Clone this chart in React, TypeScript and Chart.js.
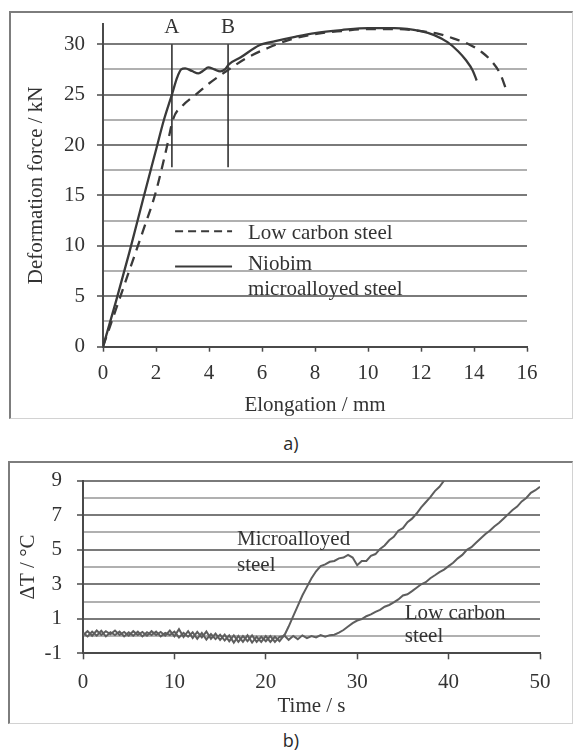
import { useEffect, useRef } from 'react';
import { Chart, registerables } from 'chart.js';

Chart.register(...registerables);

// ---------- Chart a) : deformation force vs elongation ----------
const elongationLow = [0, 0.5, 1.0, 1.5, 2.0, 2.4, 2.65, 3.0, 3.5, 4.0, 4.7, 5.4, 6.2, 7.0, 8.0, 9.0, 10.0, 11.0, 12.0, 12.7, 13.3, 13.8, 14.3, 14.7, 15.0, 15.2];
const forceLow = [0, 3.8, 7.6, 11.4, 15.4, 19.7, 22.6, 23.9, 25.0, 26.1, 27.4, 28.6, 29.6, 30.4, 31.0, 31.3, 31.5, 31.5, 31.3, 31.0, 30.5, 30.0, 29.2, 28.2, 27.0, 25.6];

const elongationNb = [0, 0.5, 1.0, 1.5, 2.0, 2.3, 2.6, 2.8, 2.95, 3.1, 3.35, 3.6, 3.8, 3.97, 4.2, 4.42, 4.6, 4.75, 5.2, 5.9, 6.5, 7.2, 8.0, 9.0, 10.0, 11.0, 12.0, 12.5, 13.0, 13.4, 13.7, 13.95, 14.1];
const forceNb = [0, 4.6, 9.4, 14.5, 19.5, 22.5, 25.0, 26.7, 27.5, 27.6, 27.35, 27.1, 27.4, 27.7, 27.5, 27.3, 27.5, 28.0, 28.7, 29.9, 30.3, 30.7, 31.1, 31.4, 31.6, 31.6, 31.3, 30.9, 30.2, 29.3, 28.4, 27.4, 26.4];

const markerNames = ['A', 'B'];
const markerElongation = [2.6, 4.72];
const markerForceRange = [17.8, 30];

const legendLow = 'Low carbon steel';
const legendNb = ['Niobim', 'microalloyed steel'];

// ---------- Chart b) : temperature rise vs time ----------
const timeMicro = [0, 0.5, 1, 1.5, 2, 2.5, 3, 3.5, 4, 4.5, 5, 5.5, 6, 6.5, 7, 7.5, 8, 8.5, 9, 9.5, 10, 10.5, 11, 11.5, 12, 12.5, 13, 13.5, 14, 14.5, 15, 15.5, 16, 16.5, 17, 17.5, 18, 18.5, 19, 19.5, 20, 20.5, 21, 21.5, 22, 22.5, 23, 23.5, 24, 24.5, 25, 25.5, 26, 26.5, 27, 27.5, 28, 28.5, 29, 29.5, 30, 30.5, 31, 31.5, 32, 32.5, 33, 33.5, 34, 34.5, 35, 35.5, 36, 36.5, 37, 37.5, 38, 38.5, 39, 39.5];
const deltaTMicro = [
  0.05, 0.28, 0.02, 0.32, 0.06, 0.28, 0.10, 0.32, 0.06, 0.24,
  0.02, 0.28, 0.06, 0.24, 0.02, 0.28, 0.06, 0.24, 0.02, 0.32,
  -0.02, 0.40, -0.06, 0.28, -0.12, 0.24, -0.08, 0.26, -0.16, 0.14,
  -0.22, 0.08, -0.30, 0.04, -0.34, 0.00, -0.30, 0.04, -0.34, -0.04,
  -0.30, 0.00, -0.34, -0.05, 0.00, 0.55, 1.15, 1.75, 2.35, 2.85,
  3.35, 3.75, 4.05, 4.15, 4.30, 4.35, 4.50, 4.55, 4.70, 4.55,
  4.10, 4.35, 4.35, 4.65, 4.75, 5.05, 5.25, 5.55, 5.75, 6.10,
  6.25, 6.60, 6.80, 7.10, 7.45, 7.75, 8.05, 8.40, 8.65, 9.00,
];

const timeLow = [0, 0.5, 1, 1.5, 2, 2.5, 3, 3.5, 4, 4.5, 5, 5.5, 6, 6.5, 7, 7.5, 8, 8.5, 9, 9.5, 10, 10.5, 11, 11.5, 12, 12.5, 13, 13.5, 14, 14.5, 15, 15.5, 16, 16.5, 17, 17.5, 18, 18.5, 19, 19.5, 20, 20.5, 21, 21.5, 22, 22.5, 23, 23.5, 24, 24.5, 25, 25.5, 26, 26.5, 27, 27.5, 28, 28.5, 29, 29.5, 30, 30.5, 31, 31.5, 32, 32.5, 33, 33.5, 34, 34.5, 35, 35.5, 36, 36.5, 37, 37.5, 38, 38.5, 39, 39.5, 40, 40.5, 41, 41.5, 42, 42.5, 43, 43.5, 44, 44.5, 45, 45.5, 46, 46.5, 47, 47.5, 48, 48.5, 49, 49.5, 50, 50.3];
const deltaTLow = [
  0.18, -0.02, 0.26, 0.02, 0.30, -0.02, 0.22, 0.06, 0.26, -0.02,
  0.22, 0.02, 0.26, -0.02, 0.22, 0.06, 0.26, -0.02, 0.18, 0.06,
  0.26, -0.08, 0.18, -0.04, 0.22, -0.16, 0.18, -0.20, 0.12, -0.18,
  0.08, -0.26, 0.04, -0.38, 0.00, -0.34, 0.04, -0.38, -0.04, -0.34,
  0.00, -0.34, -0.04, -0.30, 0.04, -0.22, 0.00, -0.18, 0.04, -0.12,
  0.00, -0.08, 0.06, -0.04, 0.05, 0.08, 0.20, 0.35, 0.55, 0.75,
  0.90, 0.98, 1.15, 1.25, 1.40, 1.52, 1.70, 1.80, 1.95, 2.12,
  2.35, 2.42, 2.60, 2.80, 3.00, 3.12, 3.35, 3.52, 3.70, 3.85,
  4.05, 4.25, 4.50, 4.70, 5.00, 5.15, 5.40, 5.65, 5.90, 6.10,
  6.35, 6.55, 6.80, 7.05, 7.30, 7.50, 7.80, 8.00, 8.30, 8.45,
  8.65, 9.00,
];

const noteMicro = ['Microalloyed', 'steel'];
const noteLow = ['Low carbon', 'steel'];

// ---------- styling ----------
const SERIF = '"Liberation Serif", "Times New Roman", serif';
const FONT = { family: SERIF, size: 21 };
const TEXT = '#333333';
const AXIS = '#4a4a4a';
const MAJOR = '#7a7a7a';
const MINOR = '#b0b0b0';
const CURVE_A = '#3a3a3a';
const CURVE_B = '#5e5e5e';

const pts = (xs: number[], ys: number[]) => xs.map((x, i) => ({ x, y: ys[i] }));

export default function App() {
  const topRef = useRef<HTMLCanvasElement>(null);
  const botRef = useRef<HTMLCanvasElement>(null);

  useEffect(() => {
    const topAnnot = {
      id: 'topAnnot',
      afterDatasetsDraw(chart: any) {
        const { ctx, scales } = chart;
        const x = scales.x;
        const y = scales.y;
        ctx.save();
        ctx.font = `21px ${SERIF}`;
        ctx.fillStyle = TEXT;
        ctx.textAlign = 'center';
        ctx.textBaseline = 'middle';
        markerNames.forEach((n, i) => {
          ctx.fillText(n, x.getPixelForValue(markerElongation[i]), y.getPixelForValue(31.7));
        });
        // legend samples
        ctx.strokeStyle = CURVE_A;
        ctx.lineWidth = 2;
        ctx.setLineDash([8, 5]);
        ctx.beginPath();
        ctx.moveTo(x.getPixelForValue(2.72), y.getPixelForValue(11.45));
        ctx.lineTo(x.getPixelForValue(4.87), y.getPixelForValue(11.45));
        ctx.stroke();
        ctx.setLineDash([]);
        ctx.beginPath();
        ctx.moveTo(x.getPixelForValue(2.72), y.getPixelForValue(7.95));
        ctx.lineTo(x.getPixelForValue(4.87), y.getPixelForValue(7.95));
        ctx.stroke();
        ctx.textAlign = 'left';
        ctx.fillText(legendLow, x.getPixelForValue(5.47), y.getPixelForValue(11.2));
        ctx.fillText(legendNb[0], x.getPixelForValue(5.47), y.getPixelForValue(8.15));
        ctx.fillText(legendNb[1], x.getPixelForValue(5.47), y.getPixelForValue(5.7));
        ctx.restore();
      },
    };

    const botAnnot = {
      id: 'botAnnot',
      afterDatasetsDraw(chart: any) {
        const { ctx, scales } = chart;
        const x = scales.x;
        const y = scales.y;
        ctx.save();
        ctx.font = `21px ${SERIF}`;
        ctx.fillStyle = TEXT;
        ctx.textAlign = 'left';
        ctx.textBaseline = 'middle';
        ctx.fillText(noteMicro[0], x.getPixelForValue(16.85), y.getPixelForValue(5.57));
        ctx.fillText(noteMicro[1], x.getPixelForValue(16.85), y.getPixelForValue(4.09));
        ctx.fillText(noteLow[0], x.getPixelForValue(35.2), y.getPixelForValue(1.31));
        ctx.fillText(noteLow[1], x.getPixelForValue(35.2), y.getPixelForValue(-0.05));
        ctx.restore();
      },
    };

    const c1 = new Chart(topRef.current as HTMLCanvasElement, {
      type: 'line',
      data: {
        datasets: [
          {
            label: legendLow,
            data: pts(elongationLow, forceLow),
            borderColor: CURVE_A,
            borderWidth: 2.3,
            borderDash: [10, 7],
            pointRadius: 0,
            cubicInterpolationMode: 'monotone',
            fill: false,
          },
          {
            label: legendNb.join(' '),
            data: pts(elongationNb, forceNb),
            borderColor: CURVE_A,
            borderWidth: 2.3,
            pointRadius: 0,
            cubicInterpolationMode: 'monotone',
            fill: false,
          },
          ...markerNames.map((n, i) => ({
            label: n,
            data: [
              { x: markerElongation[i], y: markerForceRange[0] },
              { x: markerElongation[i], y: markerForceRange[1] },
            ],
            borderColor: '#333333',
            borderWidth: 1.6,
            pointRadius: 0,
            fill: false,
          })),
        ] as any,
      },
      options: {
        responsive: false,
        animation: false,
        devicePixelRatio: 1,
        events: [],
        layout: { padding: { top: 12, right: 45, left: 0, bottom: 0 } },
        plugins: { legend: { display: false }, tooltip: { enabled: false } },
        scales: {
          x: {
            type: 'linear',
            min: 0,
            max: 16,
            ticks: { stepSize: 2, font: FONT, color: TEXT, padding: 9, maxRotation: 0, autoSkip: false },
            grid: { drawOnChartArea: false, drawTicks: true, tickLength: 5, tickColor: AXIS, tickWidth: 1.5 },
            border: { color: AXIS, width: 2 },
            title: { display: true, text: 'Elongation / mm', font: FONT, color: TEXT, padding: { top: 0, bottom: 0 } },
            afterFit: (s: any) => {
              s.height = 71.3;
              s.paddingLeft = 0;
              s.paddingRight = 0;
            },
          },
          y: {
            type: 'linear',
            min: 0,
            max: 32,
            ticks: {
              stepSize: 2.5,
              includeBounds: false,
              autoSkip: false,
              font: FONT,
              color: TEXT,
              padding: 12,
              callback: (v: any) => (Number(v) % 5 === 0 ? String(v) : ''),
            },
            grid: {
              color: (c: any) => (c.tick && c.tick.value % 5 === 0 ? MAJOR : MINOR),
              lineWidth: 2,
              tickLength: 6,
              tickWidth: 1.5,
              tickColor: (c: any) => (c.tick && c.tick.value % 5 === 0 ? AXIS : 'rgba(0,0,0,0)'),
            },
            border: { color: AXIS, width: 2 },
            title: { display: true, text: 'Deformation force / kN', font: FONT, color: TEXT, padding: { top: 13.4, bottom: 0 } },
            afterFit: (s: any) => {
              s.width = 93;
              s.paddingTop = 0;
              s.paddingBottom = 0;
            },
          },
        },
      } as any,
      plugins: [topAnnot],
    });

    const isOdd = (v: number) => Math.abs(Math.round(v)) % 2 === 1;

    const c2 = new Chart(botRef.current as HTMLCanvasElement, {
      type: 'line',
      data: {
        datasets: [
          {
            label: noteMicro.join(' '),
            data: pts(timeMicro, deltaTMicro),
            borderColor: CURVE_B,
            borderWidth: 2,
            pointRadius: 0,
            tension: 0,
            fill: false,
          },
          {
            label: noteLow.join(' '),
            data: pts(timeLow, deltaTLow),
            borderColor: CURVE_B,
            borderWidth: 2,
            pointRadius: 0,
            tension: 0,
            fill: false,
          },
        ] as any,
      },
      options: {
        responsive: false,
        animation: false,
        devicePixelRatio: 1,
        events: [],
        layout: { padding: { top: 18.7, right: 32, left: 0, bottom: 0 } },
        plugins: { legend: { display: false }, tooltip: { enabled: false } },
        scales: {
          x: {
            type: 'linear',
            min: 0,
            max: 50,
            ticks: { stepSize: 10, font: FONT, color: TEXT, padding: 11, maxRotation: 0, autoSkip: false },
            grid: { drawOnChartArea: false, drawTicks: true, tickLength: 6, tickColor: AXIS, tickWidth: 1.5 },
            border: { color: AXIS, width: 2 },
            title: { display: true, text: 'Time / s', font: FONT, color: TEXT, padding: { top: 0, bottom: 4 } },
            afterFit: (s: any) => {
              s.height = 69.7;
              s.paddingLeft = 0;
              s.paddingRight = 0;
            },
          },
          y: {
            type: 'linear',
            min: -1,
            max: 9,
            ticks: {
              stepSize: 1,
              autoSkip: false,
              font: FONT,
              color: TEXT,
              padding: 15,
              callback: (v: any) => (isOdd(Number(v)) ? String(v) : ''),
            },
            grid: {
              color: (c: any) => (c.tick && isOdd(c.tick.value) ? MAJOR : MINOR),
              lineWidth: 2,
              tickLength: 6,
              tickWidth: 1.5,
              tickColor: (c: any) => (c.tick && isOdd(c.tick.value) ? AXIS : 'rgba(0,0,0,0)'),
            },
            border: { color: AXIS, width: 2 },
            title: { display: true, text: 'ΔT / °C', font: FONT, color: TEXT, padding: { top: 6.4, bottom: 0 } },
            afterFit: (s: any) => {
              s.width = 74;
              s.paddingTop = 0;
              s.paddingBottom = 0;
            },
          },
        },
      } as any,
      plugins: [botAnnot],
    });

    return () => {
      c1.destroy();
      c2.destroy();
    };
  }, []);

  const boxStyle = (left: number, top: number, width: number, height: number): any => ({
    position: 'absolute',
    left,
    top,
    width,
    height,
    boxSizing: 'border-box',
    borderTop: '2px solid #7d7d7d',
    borderLeft: '2px solid #7d7d7d',
    borderRight: '1px solid #d2d2d2',
    borderBottom: '1px solid #d2d2d2',
    pointerEvents: 'none',
  });

  const capStyle = (top: number): any => ({
    position: 'absolute',
    left: 241,
    top,
    width: 100,
    height: 24,
    lineHeight: '24px',
    textAlign: 'center',
    fontFamily: '"Open Sans", "Noto Sans", sans-serif',
    fontSize: 18,
    color: '#2a2a2a',
  });

  return (
    <div style={{ position: 'absolute', left: 0, top: 0, width: 573, height: 753, background: '#ffffff', overflow: 'hidden' }}>
      <canvas ref={topRef} width={562} height={406} style={{ position: 'absolute', left: 10, top: 12, width: 562, height: 406 }} />
      <div style={boxStyle(9, 11, 564, 408)} />
      <div style={capStyle(431)}>a)</div>
      <canvas ref={botRef} width={563} height={261} style={{ position: 'absolute', left: 9, top: 462, width: 563, height: 261 }} />
      <div style={boxStyle(8, 461, 565, 263)} />
      <div style={capStyle(728)}>b)</div>
    </div>
  );
}
